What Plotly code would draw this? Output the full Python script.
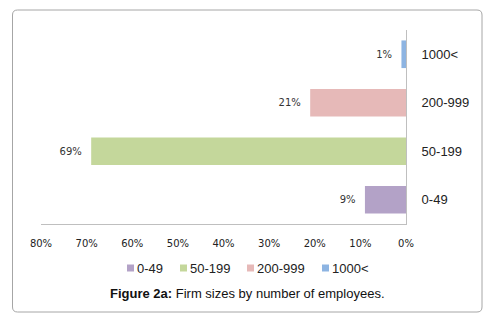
import plotly.graph_objects as go

categories = ["0-49", "50-199", "200-999", "1000<"]
shares = [0.09, 0.69, 0.21, 0.01]
colors = ["#B3A2C7", "#C4D79B", "#E6B9B8", "#8DB4E2"]
tick_vals = [0.8, 0.7, 0.6, 0.5, 0.4, 0.3, 0.2, 0.1, 0.0]
tick_text = ["80%", "70%", "60%", "50%", "40%", "30%", "20%", "10%", "0%"]

W, H = 493, 323
OFF = 8  # page body margin
L, R, T, B = 41 - OFF, 406 - OFF, 30 - OFF, 224 - OFF

fig = go.Figure()
for c, v, col in zip(categories, shares, colors):
    fig.add_trace(go.Bar(
        x=[v], y=[c], orientation="h", name=c,
        marker=dict(color=col, line=dict(width=0)),
        text=[f"{round(v*100)}%\u00a0\u00a0"], textposition="outside",
        textfont=dict(family="DejaVu Sans", size=10, color="#333"),
        cliponaxis=False,
        width=0.57,
        showlegend=False,
    ))

def px(x):
    return (x - OFF - L) / (R - L)

def py(y):
    return (B - (y - OFF)) / (B - T)

# rounded border (screen coords)
x0, x1, y0, y1 = 12.5, 482, 10, 312
r = 5
path = (f"M {px(x0+r)},{py(y0)} L {px(x1-r)},{py(y0)} Q {px(x1)},{py(y0)} {px(x1)},{py(y0+r)} "
        f"L {px(x1)},{py(y1-r)} Q {px(x1)},{py(y1)} {px(x1-r)},{py(y1)} "
        f"L {px(x0+r)},{py(y1)} Q {px(x0)},{py(y1)} {px(x0)},{py(y1-r)} "
        f"L {px(x0)},{py(y0+r)} Q {px(x0)},{py(y0)} {px(x0+r)},{py(y0)} Z")

shapes = [dict(type="path", path=path, xref="paper", yref="paper",
               line=dict(color="#A6A6A6", width=1), layer="below")]
annotations = [dict(text="<b>Figure 2a:</b> Firm sizes by number of employees.",
                    x=px(247), y=py(293), xref="paper", yref="paper",
                    showarrow=False, xanchor="center", yanchor="middle",
                    font=dict(family="Arial", size=13, color="#111"))]

# legend (squares + labels)
legend_x = [127, 180, 247, 322]
for lx, c, col in zip(legend_x, categories, colors):
    shapes.append(dict(type="rect", xref="paper", yref="paper",
                       x0=px(lx), x1=px(lx + 7), y0=py(271.5), y1=py(264.5),
                       fillcolor=col, line=dict(width=0)))
    annotations.append(dict(text=c, x=px(lx + 8), y=py(268), xref="paper", yref="paper",
                            showarrow=False, xanchor="left", yanchor="middle",
                            font=dict(family="Arial", size=13, color="#222")))

fig.update_layout(
    width=W, height=H,
    margin=dict(l=L, r=W - R, t=T, b=H - B, autoexpand=False),
    paper_bgcolor="white", plot_bgcolor="white",
    barmode="relative",
    showlegend=False,
    xaxis=dict(range=[0.8, 0], tickvals=tick_vals, ticktext=tick_text,
               showgrid=False, zeroline=False, showline=True, linecolor="#BFBFBF",
               linewidth=1, ticks="", ticklabelstandoff=10,
               tickfont=dict(family="DejaVu Sans", size=10, color="#222")),
    yaxis=dict(side="right", showgrid=False, zeroline=False, showline=True,
               linecolor="#BFBFBF", linewidth=1, ticks="", ticklabelstandoff=12,
               tickfont=dict(family="Arial", size=13, color="#222"),
               categoryorder="array", categoryarray=categories),
    shapes=shapes,
    annotations=annotations,
)

fig.write_html("out.html")
